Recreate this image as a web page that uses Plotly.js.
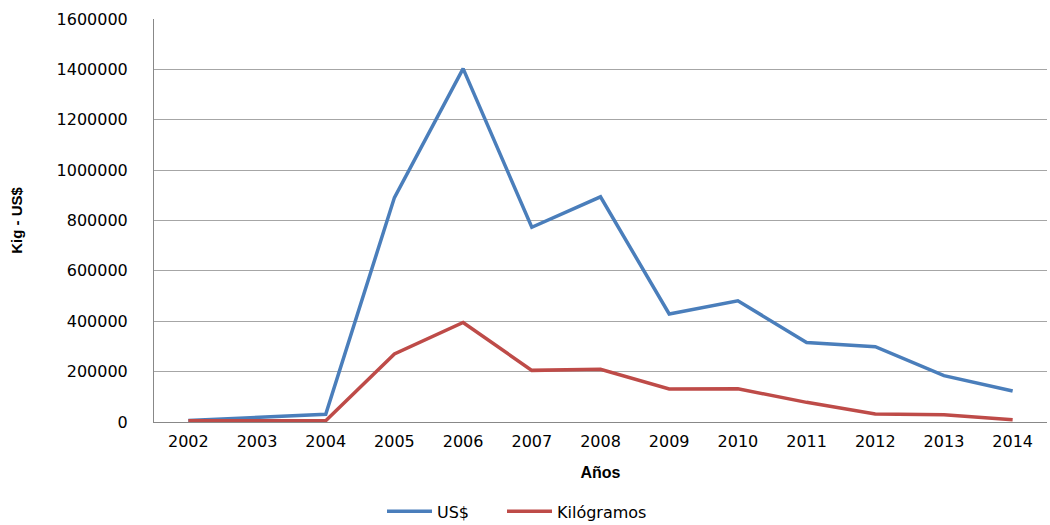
<!DOCTYPE html>
<html>
<head>
<meta charset="utf-8">
<script src="https://cdn.plot.ly/plotly-3.0.1.min.js"></script>
<style>html,body{margin:0;padding:0;background:#fff;}#chart{width:1050px;height:525px;}</style>
</head>
<body>
<div id="chart"></div>
<script>
const years = ["2002","2003","2004","2005","2006","2007","2008","2009","2010","2011","2012","2013","2014"];
const usd = [6000, 18000, 31000, 891000, 1403000, 773000, 894000, 429000, 481000, 316000, 299000, 184000, 123000];
const kg = [5000, 5000, 5000, 270000, 395000, 205000, 209000, 131000, 132000, 78000, 32000, 29000, 9000];
const yTicks = [0, 200000, 400000, 600000, 800000, 1000000, 1200000, 1400000, 1600000];

const tickFont = {family: "DejaVu Sans", size: 16, color: "#000"};
const titleFont = {family: "Liberation Sans Narrow, Liberation Sans", size: 16, color: "#000", weight: 700};
const legendFont = {family: "DejaVu Sans", size: 16, color: "#000"};

const traces = [
  {x: years, y: usd, name: "US$", type: "scatter", mode: "lines", legend: "legend",
   line: {color: "#4a7ebb", width: 3.5}},
  {x: years, y: kg, name: "Kilógramos", type: "scatter", mode: "lines", legend: "legend2",
   line: {color: "#be4b48", width: 3.5}}
];

const layout = {
  width: 1050, height: 525,
  margin: {l: 154, r: 3, t: 19, b: 103},
  paper_bgcolor: "#fff", plot_bgcolor: "#fff",
  showlegend: true,
  legend: {orientation: "h", x: 382 / 1050, xanchor: "left", xref: "container",
           y: 0.026, yanchor: "middle", yref: "container",
           font: legendFont, itemwidth: 45},
  legend2: {orientation: "h", x: 502 / 1050, xanchor: "left", xref: "container",
           y: 0.026, yanchor: "middle", yref: "container",
           font: legendFont, itemwidth: 45},
  xaxis: {type: "category", categoryorder: "array", categoryarray: years,
          range: [-0.5, 12.5], autorange: false,
          showgrid: false, showline: true, linecolor: "#888", linewidth: 1,
          ticks: "", tickfont: tickFont, ticklabelstandoff: 5, zeroline: false,
          automargin: true,
          title: {text: "Años", font: titleFont, standoff: 16}},
  yaxis: {range: [0, 1600000], autorange: false, tickvals: yTicks, ticktext: yTicks.map(String),
          showgrid: true, gridcolor: "#a6a6a6", gridwidth: 1,
          showline: true, linecolor: "#888", linewidth: 1, zeroline: false,
          ticks: "", tickfont: tickFont, ticklabelstandoff: 22,
          automargin: true,
          title: {text: "Kig - US$", font: {family: "Liberation Sans Narrow, Liberation Sans", size: 15, color: "#000", weight: 700}, standoff: 30}}
};

Plotly.newPlot("chart", traces, layout, {displayModeBar: false, staticPlot: true});
</script>
</body>
</html>
